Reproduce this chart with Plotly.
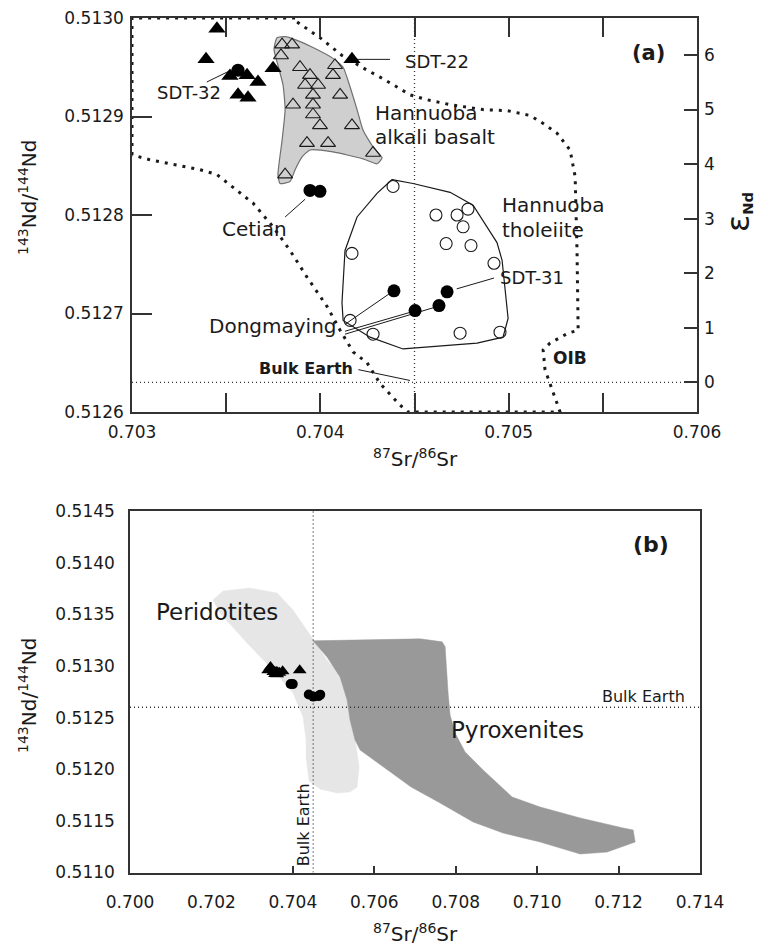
import plotly.graph_objects as go

# ---------------------------------------------------------------
# Sr-Nd isotope data
# ---------------------------------------------------------------
# Filled triangles (xenolith samples, incl. SDT-22 as last entry)
tri_sr = [0.703451, 0.703393, 0.703520, 0.703611, 0.703669, 0.703563, 0.703616, 0.703749, 0.704168]
tri_nd = [0.512989, 0.512958, 0.512941, 0.512942, 0.512935, 0.512922, 0.512919, 0.512949, 0.512958]

# Filled circles: SDT-32, Cetian (2), Dongmaying (4, last is SDT-31)
circ_sr = [0.703563, 0.703945, 0.703998, 0.704391, 0.704503, 0.704630, 0.704673]
circ_nd = [0.512947, 0.512825, 0.512824, 0.512723, 0.512703, 0.512708, 0.512722]

# Hannuoba alkali basalts (open triangles)
alk_sr = [0.703797, 0.703850, 0.703791, 0.703892, 0.703945, 0.704078, 0.704067, 0.703919, 0.703988, 0.703961,
          0.704105, 0.703855, 0.703961, 0.703961, 0.703998, 0.704168, 0.703929, 0.704041, 0.704280, 0.703813]
alk_nd = [0.512973, 0.512973, 0.512962, 0.512950, 0.512942, 0.512952, 0.512942, 0.512932, 0.512932, 0.512922,
          0.512922, 0.512912, 0.512912, 0.512902, 0.512891, 0.512891, 0.512873, 0.512873, 0.512863, 0.512841]

# Hannuoba tholeiites (open circles)
thol_sr = [0.704386, 0.704168, 0.704158, 0.704280, 0.704614, 0.704726, 0.704784, 0.704758, 0.704668, 0.704800,
           0.704922, 0.704742, 0.704954]
thol_nd = [0.512829, 0.512761, 0.512693, 0.512679, 0.512800, 0.512800, 0.512806, 0.512788, 0.512771, 0.512769,
           0.512751, 0.512680, 0.512681]

# Field outlines
alk_field_sr = [0.703770, 0.703813, 0.703866, 0.703961, 0.704067, 0.704121, 0.704158, 0.704195, 0.704227, 0.704280,
                0.704328, 0.704301, 0.704227, 0.704067, 0.703945, 0.703903, 0.703866, 0.703839, 0.703786, 0.703775,
                0.703797, 0.703813, 0.703802, 0.703775, 0.703754, 0.703770]
alk_field_nd = [0.512980, 0.512981, 0.512978, 0.512970, 0.512959, 0.512950, 0.512930, 0.512907, 0.512886, 0.512869,
                0.512858, 0.512852, 0.512857, 0.512864, 0.512866, 0.512859, 0.512846, 0.512834, 0.512832, 0.512841,
                0.512876, 0.512907, 0.512932, 0.512952, 0.512968, 0.512980]

thol_field_sr = [0.704381, 0.704492, 0.704689, 0.704811, 0.704938, 0.704965, 0.704997, 0.704970, 0.704832, 0.704439,
                 0.704264, 0.704121, 0.704115, 0.704131, 0.704195, 0.704301, 0.704381]
thol_field_nd = [0.512836, 0.512832, 0.512823, 0.512810, 0.512772, 0.512754, 0.512695, 0.512676, 0.512670, 0.512664,
                 0.512676, 0.512693, 0.512711, 0.512764, 0.512798, 0.512822, 0.512836]

oib_sr = [0.703000, 0.703000, 0.703876, 0.703876, 0.703998, 0.704115, 0.704248, 0.704317, 0.704407, 0.704476,
          0.704567, 0.704689, 0.704864, 0.704991, 0.705114, 0.705183, 0.705257, 0.705326, 0.705353, 0.705363,
          0.705369, 0.705315, 0.705220, 0.705183, 0.705193, 0.705220, 0.705257, 0.705273, 0.704466, 0.704423,
          0.704317, 0.704248, 0.704174, 0.704105, 0.704036, 0.703929, 0.703839, 0.703749, 0.703643, 0.703536,
          0.703451, 0.703361, 0.703096, 0.703000]
oib_nd = [0.512861, 0.513000, 0.513000, 0.512996, 0.512980, 0.512962, 0.512947, 0.512940, 0.512930, 0.512922,
          0.512917, 0.512912, 0.512907, 0.512906, 0.512901, 0.512893, 0.512883, 0.512866, 0.512839, 0.512764,
          0.512683, 0.512680, 0.512670, 0.512663, 0.512643, 0.512629, 0.512609, 0.512600, 0.512600, 0.512607,
          0.512629, 0.512650, 0.512661, 0.512683, 0.512707, 0.512737, 0.512764, 0.512788, 0.512812, 0.512828,
          0.512841, 0.512846, 0.512856, 0.512861]

perid_sr = [0.702039, 0.702285, 0.702948, 0.703612, 0.704005, 0.704447, 0.704840, 0.705160, 0.705332, 0.705479,
            0.705627, 0.705577, 0.705405, 0.705086, 0.704668, 0.704398, 0.704324, 0.704324, 0.704251, 0.704005,
            0.703514, 0.702875, 0.702211, 0.702039]
perid_nd = [0.513638, 0.513725, 0.513754, 0.513706, 0.513541, 0.513290, 0.513057, 0.512912, 0.512670, 0.512428,
            0.512021, 0.511828, 0.511779, 0.511770, 0.511808, 0.511886, 0.512118, 0.512283, 0.512505, 0.512738,
            0.512960, 0.513222, 0.513513, 0.513638]

pyrox_sr = [0.704496, 0.706143, 0.707125, 0.707666, 0.707740, 0.707813, 0.707862, 0.707985, 0.708231, 0.708673,
            0.709386, 0.710074, 0.711057, 0.712113, 0.712359, 0.712408, 0.712088, 0.711720, 0.711057, 0.710737,
            0.710074, 0.709165, 0.708428, 0.707617, 0.706904, 0.705651, 0.705528, 0.705405, 0.705332, 0.705160,
            0.704840, 0.704496]
pyrox_nd = [0.513243, 0.513253, 0.513262, 0.513233, 0.513185, 0.512737, 0.512525, 0.512350, 0.512167, 0.511992,
            0.511731, 0.511634, 0.511528, 0.511431, 0.511411, 0.511295, 0.511247, 0.511198, 0.511179, 0.511218,
            0.511295, 0.511382, 0.511489, 0.511673, 0.511828, 0.512186, 0.512283, 0.512476, 0.512670, 0.512893,
            0.513086, 0.513243]

# Bulk Earth reference values
bulk_sr = 0.7045
bulk_nd_a = 0.51263
bulk_nd_b = 0.51260

# Axis ranges and ticks
sr_range_a = [0.703, 0.706]
nd_range_a = [0.5126, 0.5130]
eps_range = [-0.544, 6.678]
sr_ticks_a = [0.703, 0.704, 0.705, 0.706]
sr_minor_a = [0.7035, 0.7045, 0.7055]
nd_ticks_a = [0.5126, 0.5127, 0.5128, 0.5129, 0.5130]
eps_ticks = [0, 1, 2, 3, 4, 5, 6]

sr_range_b = [0.700, 0.714]
nd_range_b = [0.5110, 0.5145]
sr_ticks_b = [0.700, 0.702, 0.704, 0.706, 0.708, 0.710, 0.712, 0.714]
sr_minor_b = [0.704, 0.706, 0.708, 0.710, 0.712]
nd_ticks_b = [0.5110, 0.5115, 0.5120, 0.5125, 0.5130, 0.5135, 0.5140, 0.5145]

W, H = 760, 951
FONT = "DejaVu Sans, Arial, sans-serif"
INK = "#1a1a1a"
AX = "#333333"


def px_x(p):
    return p / W


def px_y(p):
    return 1 - p / H


fig = go.Figure()

# ---------------- panel (a) ----------------
fig.add_trace(go.Scatter(x=oib_sr, y=oib_nd, mode="lines", xaxis="x", yaxis="y",
                         line=dict(color=INK, width=3, dash="3px,6px"), hoverinfo="skip"))
fig.add_trace(go.Scatter(x=alk_field_sr, y=alk_field_nd, mode="lines", fill="toself", xaxis="x", yaxis="y",
                         fillcolor="#cfcfcf", line=dict(color="#707070", width=1.2, shape="spline", smoothing=0.5),
                         hoverinfo="skip"))
fig.add_trace(go.Scatter(x=thol_field_sr, y=thol_field_nd, mode="lines", xaxis="x", yaxis="y",
                         line=dict(color=INK, width=1.2), hoverinfo="skip"))
# Bulk Earth reference lines
fig.add_trace(go.Scatter(x=[bulk_sr, bulk_sr], y=nd_range_a, mode="lines", xaxis="x", yaxis="y",
                         line=dict(color=AX, width=1.3, dash="1px,3px"), hoverinfo="skip"))
fig.add_trace(go.Scatter(x=sr_range_a, y=[bulk_nd_a, bulk_nd_a], mode="lines", xaxis="x", yaxis="y",
                         line=dict(color=AX, width=1.3, dash="1px,3px"), hoverinfo="skip"))

# leader lines for sample labels
leaders_a = [
    ([0.703397, 0.703547], [0.512935, 0.512949]),   # SDT-32
    ([0.704193, 0.704370], [0.512958, 0.512958]),   # SDT-22
    ([0.703813, 0.703919], [0.512798, 0.512816]),   # Cetian
    ([0.704131, 0.704381], [0.512689, 0.512722]),   # Dongmaying
    ([0.704131, 0.704492], [0.512682, 0.512702]),
    ([0.704131, 0.704620], [0.512679, 0.512707]),
    ([0.704724, 0.704922], [0.512725, 0.512736]),   # SDT-31
    ([0.704202, 0.704476], [0.512643, 0.512632]),   # Bulk Earth
]
for lx, ly in leaders_a:
    fig.add_trace(go.Scatter(x=lx, y=ly, mode="lines", xaxis="x", yaxis="y",
                             line=dict(color=INK, width=1), hoverinfo="skip"))

fig.add_trace(go.Scatter(x=alk_sr, y=alk_nd, mode="markers", xaxis="x", yaxis="y",
                         marker=dict(symbol="triangle-up-open", size=13, color=INK, line=dict(width=1.1))))
fig.add_trace(go.Scatter(x=thol_sr, y=thol_nd, mode="markers", xaxis="x", yaxis="y",
                         marker=dict(symbol="circle-open", size=12, color=INK, line=dict(width=1.1))))
fig.add_trace(go.Scatter(x=tri_sr, y=tri_nd, mode="markers", xaxis="x", yaxis="y",
                         marker=dict(symbol="triangle-up", size=15, color="black", line=dict(width=0))))
fig.add_trace(go.Scatter(x=circ_sr, y=circ_nd, mode="markers", xaxis="x", yaxis="y",
                         marker=dict(symbol="circle", size=13, color="black", line=dict(width=0))))
# invisible trace anchoring the epsilon-Nd axis
fig.add_trace(go.Scatter(x=[sr_range_a[0]], y=[0], mode="markers", xaxis="x", yaxis="y3",
                         marker=dict(opacity=0), hoverinfo="skip"))

# ---------------- panel (b) ----------------
fig.add_trace(go.Scatter(x=perid_sr, y=perid_nd, mode="lines", fill="toself", xaxis="x2", yaxis="y2",
                         fillcolor="#e6e6e6", line=dict(color="#e6e6e6", width=0.5), hoverinfo="skip"))
fig.add_trace(go.Scatter(x=pyrox_sr, y=pyrox_nd, mode="lines", fill="toself", xaxis="x2", yaxis="y2",
                         fillcolor="#999999", line=dict(color="#999999", width=0.5), hoverinfo="skip"))
fig.add_trace(go.Scatter(x=[bulk_sr, bulk_sr], y=nd_range_b, mode="lines", xaxis="x2", yaxis="y2",
                         line=dict(color=AX, width=1.3, dash="1px,3px"), hoverinfo="skip"))
fig.add_trace(go.Scatter(x=sr_range_b, y=[bulk_nd_b, bulk_nd_b], mode="lines", xaxis="x2", yaxis="y2",
                         line=dict(color=AX, width=1.3, dash="1px,3px"), hoverinfo="skip"))
fig.add_trace(go.Scatter(x=tri_sr, y=tri_nd, mode="markers", xaxis="x2", yaxis="y2",
                         marker=dict(symbol="triangle-up", size=12, color="black", line=dict(width=0))))
fig.add_trace(go.Scatter(x=circ_sr, y=circ_nd, mode="markers", xaxis="x2", yaxis="y2",
                         marker=dict(symbol="circle", size=10, color="black", line=dict(width=0))))

tick_font = dict(family=FONT, size=17, color=INK)

ann = []


def label(text, x, y, xref="x", yref="y", size=20, bold=False, xanchor="center", angle=0):
    ann.append(dict(text=f"<b>{text}</b>" if bold else text, x=x, y=y, xref=xref, yref=yref,
                    showarrow=False, xanchor=xanchor, yanchor="middle", textangle=angle,
                    font=dict(family=FONT, size=size, color=INK)))


# panel (a) text
label("SDT-32", 0.703300, 0.512924, size=18)
label("SDT-22", 0.704618, 0.512956, size=18)
label("Hannuoba", 0.704280, 0.512904, xanchor="left")
label("alkali basalt", 0.704280, 0.512879, xanchor="left")
label("Hannuoba", 0.704954, 0.512810, xanchor="left")
label("tholeiite", 0.704954, 0.512785, xanchor="left")
label("Cetian", 0.703653, 0.512786)
label("Dongmaying", 0.703746, 0.512687)
label("SDT-31", 0.705123, 0.512737, size=18)
label("Bulk Earth", 0.703924, 0.512644, size=16, bold=True)
label("OIB", 0.705326, 0.512655, size=17, bold=True)
label("(a)", 0.705740, 0.512964, size=21, bold=True)

# panel (b) text
label("Peridotites", 0.702130, 0.513520, xref="x2", yref="y2", size=23)
label("Pyroxenites", 0.709520, 0.512380, xref="x2", yref="y2", size=23)
label("Bulk Earth", 0.712600, 0.512700, xref="x2", yref="y2", size=16)
label("Bulk Earth", 0.704280, 0.511460, xref="x2", yref="y2", size=16, angle=-90)
label("(b)", 0.712800, 0.514180, xref="x2", yref="y2", size=22, bold=True)

# axis titles
label("<sup>143</sup>Nd/<sup>144</sup>Nd", px_x(28), px_y(197), xref="paper", yref="paper", size=20, angle=-90)
label("<sup>87</sup>Sr/<sup>86</sup>Sr", px_x(415), px_y(458), xref="paper", yref="paper", size=20)
label("<sup>143</sup>Nd/<sup>144</sup>Nd", px_x(28), px_y(695), xref="paper", yref="paper", size=20, angle=-90)
label("<sup>87</sup>Sr/<sup>86</sup>Sr", px_x(415), px_y(933), xref="paper", yref="paper", size=20)
label("<span style='font-size:32px'>ε</span><sub><b>Nd</b></sub>", px_x(738), px_y(212),
      xref="paper", yref="paper", size=21, angle=-90)

axis_common = dict(showgrid=False, zeroline=False, showline=True, linecolor=AX, linewidth=1.5,
                   tickfont=tick_font, tickcolor=AX, automargin=False)

fig.update_layout(
    width=W, height=H,
    margin=dict(l=0, r=0, t=0, b=0),
    paper_bgcolor="white", plot_bgcolor="white",
    showlegend=False,
    annotations=ann,
    xaxis=dict(domain=[px_x(132), px_x(697)], range=sr_range_a, anchor="y",
               tickvals=sr_ticks_a, tickformat=".3f", ticks="inside", ticklen=19, tickwidth=1.5,
               minor=dict(tickvals=sr_minor_a, ticks="inside", ticklen=19, tickwidth=1.5, tickcolor=AX),
               mirror="ticks", ticklabelstandoff=4, **axis_common),
    yaxis=dict(domain=[px_y(412), px_y(18)], range=nd_range_a, anchor="x",
               tickvals=nd_ticks_a, tickformat=".4f", ticks="inside", ticklen=20, tickwidth=1.5,
               mirror=True, ticklabelstandoff=3, **axis_common),
    yaxis3=dict(range=eps_range, overlaying="y", anchor="x", side="right",
                tickvals=eps_ticks, ticks="inside", ticklen=13, tickwidth=1.5,
                ticklabelstandoff=6, showgrid=False, zeroline=False, showline=False,
                tickfont=tick_font, tickcolor=AX, automargin=False),
    xaxis2=dict(domain=[px_x(130), px_x(700)], range=sr_range_b, anchor="y2",
                tickvals=sr_ticks_b, tickformat=".3f", ticks="", ticklabelstandoff=13,
                minor=dict(tickvals=sr_minor_b, ticks="inside", ticklen=7, tickwidth=1.5, tickcolor=AX),
                mirror=True, **axis_common),
    yaxis2=dict(domain=[px_y(872.5), px_y(511)], range=nd_range_b, anchor="x2",
                tickvals=nd_ticks_b, tickformat=".4f", ticks="", ticklabelstandoff=10,
                mirror=True, **axis_common),
)

fig.write_html("out.html")
